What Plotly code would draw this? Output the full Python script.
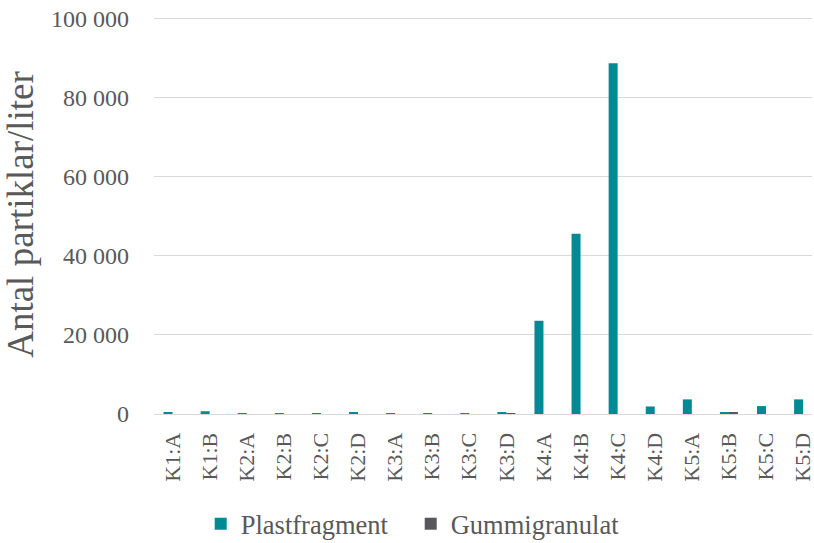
import plotly.graph_objects as go

categories = ["K1:A","K1:B","K2:A","K2:B","K2:C","K2:D","K3:A","K3:B","K3:C","K3:D",
              "K4:A","K4:B","K4:C","K4:D","K5:A","K5:B","K5:C","K5:D"]
plastfragment = [400, 700, 50, 100, 80, 400, 100, 80, 250, 300,
                 23600, 45600, 88800, 1900, 3700, 500, 2000, 3700]
gummigranulat = [0, 0, 0, 0, 0, 0, 0, 0, 0, 100,
                 0, 0, 0, 0, 0, 300, 0, 0]

FONT = "Liberation Serif, serif"
TXT = "#595959"

fig = go.Figure()
fig.add_bar(x=categories, y=plastfragment, name="Plastfragment", marker_color="#008B94")
fig.add_bar(x=categories, y=gummigranulat, name="Gummigranulat", marker_color="#58585C")

fig.update_layout(
    template="none",
    width=814, height=543,
    margin=dict(l=154, r=2, t=15, b=129, pad=0),
    paper_bgcolor="white", plot_bgcolor="white",
    barmode="group", bargap=0.515, bargroupgap=0,
    separators=", ",
    font=dict(family=FONT, color=TXT, size=24),
    showlegend=True,
    legend=dict(orientation="h", x=0.071, xanchor="left", yref="container", y=0.035, yanchor="middle",
                font=dict(size=26.5, family=FONT, color=TXT), itemwidth=30,
                traceorder="normal", entrywidth=165, entrywidthmode="pixels",
                bgcolor="rgba(0,0,0,0)"),
    xaxis=dict(range=[-0.5, 17.24], tickangle=-90, showgrid=False, automargin=False,
               showline=True, linecolor="#d9d9d9", linewidth=1, ticks="",
               ticklabelstandoff=9,
               tickfont=dict(size=22, family=FONT, color=TXT)),
    yaxis=dict(range=[0, 101000], tickvals=[0, 20000, 40000, 60000, 80000, 100000],
               tickformat=",d", showgrid=True, automargin=False,
               gridcolor="#d9d9d9", gridwidth=1, zeroline=False, showline=False,
               ticklabelstandoff=24,
               tickfont=dict(size=24, family=FONT, color=TXT), ticks="", ticklen=0,
               title=dict(text="Antal partiklar/liter", font=dict(size=37, family=FONT, color=TXT), standoff=20)),
)
fig.write_html("out.html", config={"displayModeBar": False},
               post_script="document.body.style.margin='0';document.body.style.overflow='hidden';")
